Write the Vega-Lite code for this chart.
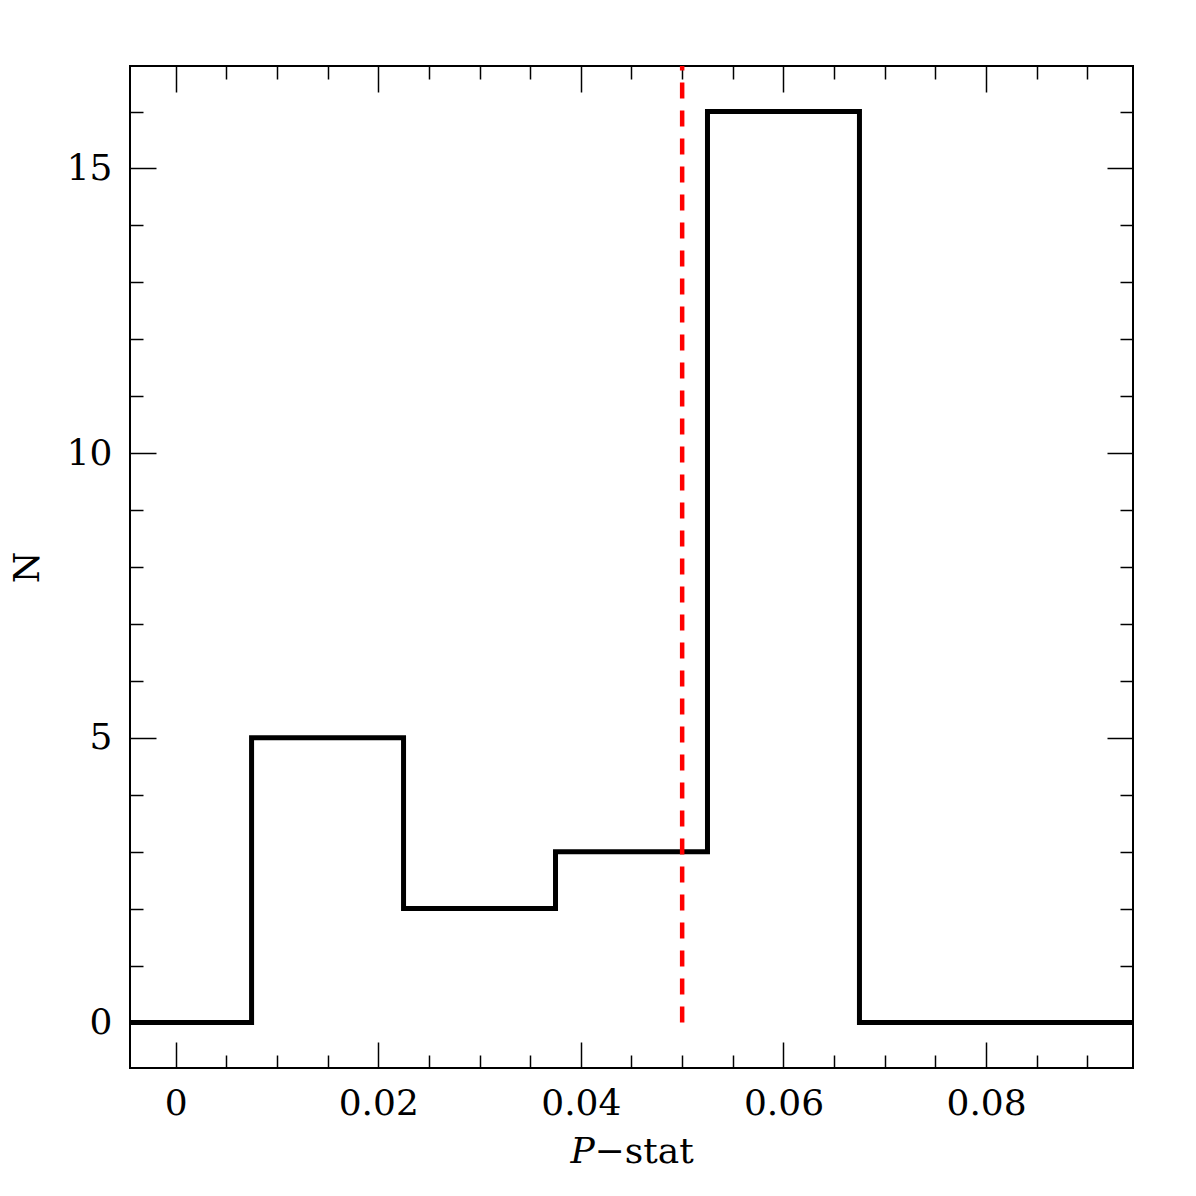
{
  "$schema": "https://vega.github.io/schema/vega-lite/v6.json",
  "autosize": "none",
  "width": 1003,
  "height": 1002,
  "padding": {"left": 130, "top": 66, "right": 63, "bottom": 128},
  "background": "white",
  "config": {
    "view": {"stroke": "black", "strokeWidth": 2},
    "axis": {
      "grid": false,
      "domain": false,
      "tickColor": "black",
      "tickWidth": 1.5,
      "labelFont": "DejaVu Serif",
      "labelFontSize": 36,
      "labelColor": "black",
      "labelOverlap": false,
      "labelFlush": false,
      "titleFont": "DejaVu Serif",
      "titleFontSize": 36,
      "titleFontWeight": "normal",
      "titleColor": "black"
    }
  },
  "layer": [
    {
      "data": {"values": [
        {"p": -0.0075, "n": 0},
        {"p": 0.0075, "n": 5},
        {"p": 0.0225, "n": 2},
        {"p": 0.0375, "n": 3},
        {"p": 0.0525, "n": 16},
        {"p": 0.0675, "n": 0},
        {"p": 0.0825, "n": 0},
        {"p": 0.0975, "n": 0}
      ]},
      "mark": {"type": "line", "interpolate": "step-after", "color": "black", "strokeWidth": 5, "clip": true},
      "encoding": {
        "x": {
          "field": "p", "type": "quantitative",
          "scale": {"domain": [-0.0045, 0.0945], "nice": false, "zero": false},
          "axis": {
            "orient": "bottom",
            "values": [0, 0.005, 0.01, 0.015, 0.02, 0.025, 0.03, 0.035, 0.04, 0.045, 0.05, 0.055, 0.06, 0.065, 0.07, 0.075, 0.08, 0.085, 0.09],
            "format": ".2~f",
            "labelExpr": "round(datum.value*1000) % 20 === 0 ? datum.label : ''",
            "tickSize": {"condition": {"test": "round(datum.value*1000) % 20 === 0", "value": -26}, "value": -13},
            "labelPadding": 44,
            "title": "𝑃−stat",
            "titlePadding": 0
          }
        },
        "y": {
          "field": "n", "type": "quantitative",
          "scale": {"domain": [-0.8, 16.8], "nice": false, "zero": false},
          "axis": {
            "orient": "left",
            "values": [0, 1, 2, 3, 4, 5, 6, 7, 8, 9, 10, 11, 12, 13, 14, 15, 16],
            "labelExpr": "datum.value % 5 === 0 ? datum.label : ''",
            "tickSize": {"condition": {"test": "datum.value % 5 === 0", "value": -26}, "value": -13},
            "labelPadding": 44,
            "title": "N",
            "titlePadding": 20
          }
        }
      }
    },
    {
      "data": {"values": [{"p": 0.05, "lo": 0, "hi": 16.8}]},
      "mark": {"type": "rule", "color": "#ff0000", "strokeWidth": 4.5, "strokeDash": [16, 12], "clip": true},
      "encoding": {
        "x": {
          "field": "p", "type": "quantitative",
          "axis": {
            "orient": "top",
            "values": [0, 0.005, 0.01, 0.015, 0.02, 0.025, 0.03, 0.035, 0.04, 0.045, 0.05, 0.055, 0.06, 0.065, 0.07, 0.075, 0.08, 0.085, 0.09],
            "labels": false,
            "tickSize": {"condition": {"test": "round(datum.value*1000) % 20 === 0", "value": -26}, "value": -13},
            "title": null
          }
        },
        "y": {
          "field": "lo", "type": "quantitative",
          "axis": {
            "orient": "right",
            "values": [0, 1, 2, 3, 4, 5, 6, 7, 8, 9, 10, 11, 12, 13, 14, 15, 16],
            "labels": false,
            "tickSize": {"condition": {"test": "datum.value % 5 === 0", "value": -26}, "value": -13},
            "title": null
          }
        },
        "y2": {"field": "hi"}
      }
    }
  ],
  "resolve": {"axis": {"x": "independent", "y": "independent"}}
}
